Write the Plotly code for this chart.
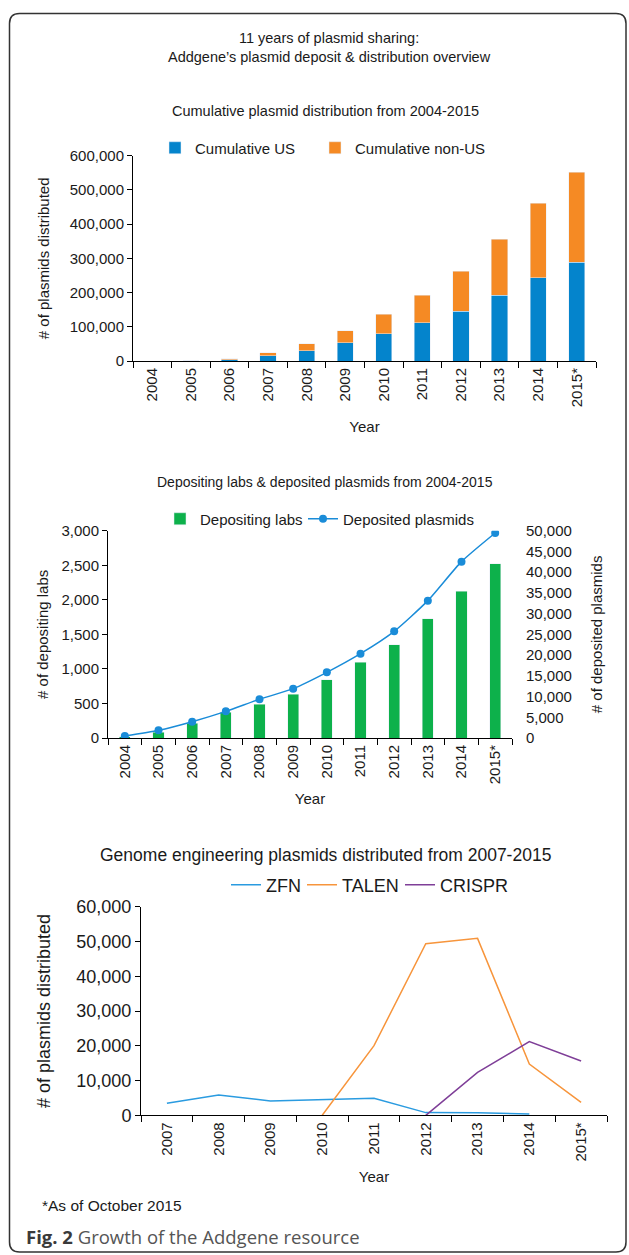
import plotly.graph_objects as go

W, H = 629, 1255

# ---------------- data ----------------
years_all = ["2004", "2005", "2006", "2007", "2008", "2009", "2010", "2011",
             "2012", "2013", "2014", "2015*"]
cum_us = [0, 300, 4000, 15600, 30200, 53600, 79900, 112000, 146100, 192900, 243500, 289300]
cum_non_us = [0, 200, 1900, 8800, 20400, 34100, 57400, 80900, 116900, 163600, 218200, 263000]

depositing_labs = [15, 80, 217, 371, 492, 632, 844, 1095, 1346, 1727, 2122, 2522]
deposited_plasmids = [480, 1850, 3940, 6430, 9330, 11900, 15840, 20340, 25730, 33130, 42540, 49450]

years_ge = ["2007", "2008", "2009", "2010", "2011", "2012", "2013", "2014", "2015*"]
zfn = [3450, 5850, 4120, 4500, 4890, 770, 700, 380, None]
talen = [None, None, None, 0, 20030, 49360, 50900, 14760, 3740]
crispr = [None, None, None, None, None, 0, 12360, 21180, 15620]

# ---------------- helpers ----------------
def px(x):
    return x / W

def py(y):
    return 1 - y / H

FONT = "Liberation Sans, Arial, Helvetica, sans-serif"
TXT = "#1a1a1a"

C_US = "#0484cc"
C_NONUS = "#f58a24"
C_LABS = "#0db14b"
C_DEP = "#1a8cd8"
C_ZFN = "#2a9be0"
C_TALEN = "#f7953c"
C_CRISPR = "#7f3f98"

fig = go.Figure()

fig.add_trace(go.Bar(x=years_all, y=cum_us, name="Cumulative US", marker_color=C_US,
                     xaxis="x", yaxis="y", legend="legend"))
fig.add_trace(go.Bar(x=years_all, y=cum_non_us, name="Cumulative non-US", marker_color=C_NONUS,
                     xaxis="x", yaxis="y", legend="legend2"))

fig.add_trace(go.Bar(x=years_all, y=depositing_labs, name="Depositing labs", marker_color=C_LABS,
                     xaxis="x2", yaxis="y2", legend="legend3"))
fig.add_trace(go.Scatter(x=years_all, y=deposited_plasmids, name="Deposited plasmids",
                         mode="lines+markers", line=dict(color=C_DEP, width=1.5, shape="spline", smoothing=0.6),
                         marker=dict(color=C_DEP, size=8),
                         xaxis="x2", yaxis="y3", legend="legend4"))

for name, vals, col, lg in [("ZFN", zfn, C_ZFN, "legend5"), ("TALEN", talen, C_TALEN, "legend6"),
                            ("CRISPR", crispr, C_CRISPR, "legend7")]:
    fig.add_trace(go.Scatter(x=years_ge, y=vals, name=name, mode="lines",
                             line=dict(color=col, width=1.5), connectgaps=False,
                             xaxis="x3", yaxis="y4", legend=lg))

axis_common = dict(showgrid=False, zeroline=False, showline=True, linecolor="#000", linewidth=1,
                   ticks="outside", tickcolor="#000", ticklen=5, tickwidth=1, automargin=False,
                   tickfont=dict(family=FONT, size=15, color=TXT))

xcat = dict(axis_common, type="category", tickson="boundaries", tickangle=-90, ticklen=6)


def leg(x, y, size):
    return dict(orientation="h", x=px(x), y=py(y), xanchor="left", yanchor="middle",
                font=dict(family=FONT, size=size, color=TXT), bgcolor="rgba(0,0,0,0)")


fig.update_layout(
    width=W, height=H,
    margin=dict(l=0, r=0, t=0, b=0, pad=0),
    paper_bgcolor="white", plot_bgcolor="white",
    font=dict(family=FONT, size=15, color=TXT),
    barmode="stack",
    showlegend=True,
    xaxis=dict(xcat, domain=[px(133), px(596)], anchor="y", range=[-0.5, 11.5],
               title=dict(text="Year", standoff=15, font=dict(size=15))),
    yaxis=dict(axis_common, domain=[py(361), py(155.7)], anchor="x", range=[0, 600000],
               tickvals=[0, 100000, 200000, 300000, 400000, 500000, 600000], tickformat=",d",
               title=dict(text="# of plasmids distributed", standoff=16, font=dict(size=15))),
    xaxis2=dict(xcat, domain=[px(108), px(512)], anchor="y2", range=[-0.5, 11.5],
                title=dict(text="Year", standoff=10, font=dict(size=15))),
    yaxis2=dict(axis_common, domain=[py(738), py(530.7)], anchor="x2", range=[0, 3000],
                tickvals=[0, 500, 1000, 1500, 2000, 2500, 3000], tickformat=",d",
                title=dict(text="# of depositing labs", standoff=9, font=dict(size=15))),
    yaxis3=dict(showgrid=False, zeroline=False, showline=False, ticks="outside", ticklen=10,
                tickcolor="rgba(0,0,0,0)", overlaying="y2", automargin=False,
                side="right", anchor="x2", range=[0, 50000], tickformat=",d",
                tickvals=[0, 5000, 10000, 15000, 20000, 25000, 30000, 35000, 40000, 45000, 50000],
                tickfont=dict(family=FONT, size=15, color=TXT),
                title=dict(text="# of deposited plasmids", standoff=20, font=dict(size=15))),
    xaxis3=dict(xcat, domain=[px(141), px(607)], anchor="y4", range=[-0.5, 8.5],
                title=dict(text="Year", standoff=10, font=dict(size=15))),
    yaxis4=dict(axis_common, domain=[py(1115.3), py(906.7)], anchor="x3", range=[0, 60000],
                tickvals=[0, 10000, 20000, 30000, 40000, 50000, 60000], tickformat=",d",
                tickfont=dict(family=FONT, size=18, color=TXT),
                title=dict(text="# of plasmids distributed", standoff=21, font=dict(size=18))),
    bargap=0.58,
    legend=leg(155, 148, 15),
    legend2=leg(315, 148, 15),
    legend3=leg(160, 519, 15),
    legend4=leg(303, 519, 15),
    legend5=leg(226, 885, 18),
    legend6=leg(302, 885, 18),
    legend7=leg(400, 885, 18),
)

fig.update_traces(width=0.42, selector=dict(xaxis="x"))
fig.update_traces(width=0.33, selector=dict(type="bar", xaxis="x2"))

annots = [
    dict(text="11 years of plasmid sharing:<br>Addgene\u2019s plasmid deposit &amp; distribution overview",
         x=px(329), y=py(47), size=14.5),
    dict(text="Cumulative plasmid distribution from 2004-2015", x=px(325), y=py(111), size=14.5),
    dict(text="Depositing labs &amp; deposited plasmids from 2004-2015", x=px(325), y=py(482), size=14),
    dict(text="Genome engineering plasmids distributed from 2007-2015", x=px(325), y=py(855), size=17.5),
]
for a in annots:
    fig.add_annotation(xref="paper", yref="paper", xanchor="center", yanchor="middle",
                       showarrow=False, text=a["text"], x=a["x"], y=a["y"],
                       font=dict(family=FONT, color=TXT, size=a["size"]))

fig.add_annotation(xref="paper", yref="paper", xanchor="left", yanchor="middle", showarrow=False,
                   text="*As of October 2015", x=px(40), y=py(1205),
                   font=dict(family=FONT, color=TXT, size=15.5))
fig.add_annotation(xref="paper", yref="paper", xanchor="left", yanchor="middle", showarrow=False,
                   text="<b>Fig. 2</b> <span style='color:#555555'>Growth of the Addgene resource</span>",
                   x=px(24), y=py(1236),
                   font=dict(family="Open Sans, Noto Sans, sans-serif", color="#3a3a3a", size=18.5))

L, T, R, B, r = 9.5, 13.5, 626, 1252, 10
path = (f"M {px(L)},{py(T + r)} Q {px(L)},{py(T)} {px(L + r)},{py(T)} "
        f"L {px(R - r)},{py(T)} Q {px(R)},{py(T)} {px(R)},{py(T + r)} "
        f"L {px(R)},{py(B - r)} Q {px(R)},{py(B)} {px(R - r)},{py(B)} "
        f"L {px(L + r)},{py(B)} Q {px(L)},{py(B)} {px(L)},{py(B - r)} Z")
fig.add_shape(type="path", path=path, xref="paper", yref="paper",
              line=dict(color="#333333", width=1.5), fillcolor="rgba(0,0,0,0)", layer="below")

fig.write_html("out.html", config={"displayModeBar": False},
               post_script="document.body.style.margin='0';document.documentElement.style.overflow='hidden';")
